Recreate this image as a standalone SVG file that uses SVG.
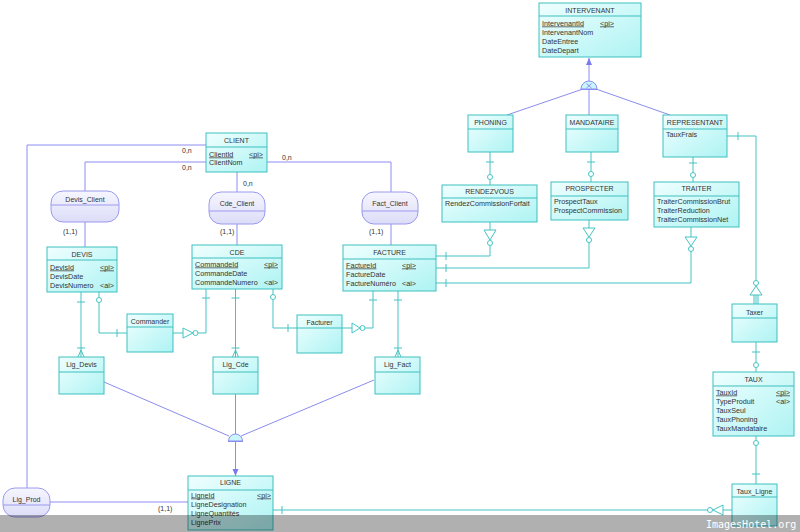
<svg xmlns="http://www.w3.org/2000/svg" width="800" height="532" viewBox="0 0 800 532">
<defs>
<linearGradient id="ge" x1="0" y1="0" x2="1" y2="1">
<stop offset="0" stop-color="#f0ffff"/><stop offset="1" stop-color="#aef3f3"/>
</linearGradient>
<linearGradient id="ga" x1="0" y1="0" x2="0" y2="1">
<stop offset="0" stop-color="#f6f6ff"/><stop offset="1" stop-color="#dcdcf8"/>
</linearGradient>
<marker id="ar" markerWidth="8" markerHeight="8" refX="7" refY="4" orient="auto" markerUnits="userSpaceOnUse">
<path d="M0,1 L7,4 L0,7 Z" fill="#7a7aee"/>
</marker>
<style>
.e{fill:url(#ge);stroke:#3fbfbf;stroke-width:1}
.a{fill:url(#ga);stroke:#9a9aee;stroke-width:1}
.sp{stroke:#3fbfbf;stroke-width:1}
.sa{stroke:#9a9aee;stroke-width:1}
text{font-family:"Liberation Sans",Arial,sans-serif;font-size:7.2px;fill:#333}
.ti{text-anchor:middle;font-size:7px}
.u{text-decoration:underline}
.b{fill:none;stroke:#8c8cf0;stroke-width:1}
.r{fill:none;stroke:#45c3c3;stroke-width:1}
.rc{fill:#fff;stroke:#45c3c3;stroke-width:1}
.h{fill:#c8f6fc;stroke:#8c8cf0;stroke-width:1}
.lb{font-size:7px}
</style>
</defs>
<rect width="800" height="532" fill="#fff"/>

<g id="connectors">
<!-- blue association / inheritance lines -->
<path class="b" d="M206,145 H27 V488"/>
<path class="b" d="M206,162 H85 V191"/>
<path class="b" d="M237,172 V192"/>
<path class="b" d="M267,162 H391 V192"/>
<path class="b" d="M85,222 V247"/>
<path class="b" d="M237,224 V245"/>
<path class="b" d="M391,224 V245"/>
<path class="b" d="M50,502 H188"/>
<path class="b" d="M104,382 L229,436"/>
<path class="b" d="M374,380 L241,436"/>
<path class="b" d="M235.5,394 V434"/>
<path class="b" d="M235.5,442 V476" marker-end="url(#ar)"/>
<path class="b" d="M589,81 V58" marker-end="url(#ar)"/>
<path class="b" d="M583,89 L507,115"/>
<path class="b" d="M589,90 V115"/>
<path class="b" d="M596,89 L670,115"/>
<path class="h" d="M228.5,441 A7,7 0 0 1 242.5,441 Z"/>
<path class="b" d="M228,441.5 H243" stroke-width="1.5"/>
<path class="h" d="M581,89 A8,8 0 0 1 597,89 Z"/>
<path class="b" d="M580,89.5 H598" stroke-width="1.5"/>
<path class="b" d="M586.5,83.5 L591.5,88 M591.5,83.5 L586.5,88" stroke-width="0.7"/>
<!-- labels -->
<text class="lb" x="182" y="152.5">0,n</text>
<text class="lb" x="182" y="169.5">0,n</text>
<text class="lb" x="243" y="185.5">0,n</text>
<text class="lb" x="282" y="159.5">0,n</text>
<text class="lb" x="63" y="233.5">(1,1)</text>
<text class="lb" x="220" y="233.5">(1,1)</text>
<text class="lb" x="369" y="233.5">(1,1)</text>
<text class="lb" x="158" y="510.5">(1,1)</text>

<!-- teal relationship lines -->
<!-- DEVIS - Lig_Devis -->
<path class="r" d="M81,292 V357 M77,302 H85 M77,348 H85 M78,357 L81,350 L84,357"/>
<!-- DEVIS - Commander -->
<path class="r" d="M99,292 V297.5 M99,302.5 V333 H127 M117,329 V337"/>
<circle class="rc" cx="99" cy="300" r="2.5"/>
<!-- Commander - CDE -->
<path class="r" d="M173,333 H183 M183,328 L193,333 L183,338 Z M198,333 H206 V289 M202,298 H210"/>
<circle class="rc" cx="195.5" cy="333" r="2.5"/>
<!-- CDE - Lig_Cde -->
<path class="r" d="M235.5,289 V357 M231.5,298 H239.5 M231.5,348 H239.5 M232.5,357 L235.5,350 L238.5,357"/>
<!-- CDE - Facturer -->
<path class="r" d="M273,289 V294.5 M273,299.5 V328 H297 M288,324 V332"/>
<circle class="rc" cx="273" cy="297" r="2.5"/>
<!-- Facturer - FACTURE -->
<path class="r" d="M342,328 H352 M352,323 L360,328 L352,333 Z M365,328 H373 V291 M369,300 H377"/>
<circle class="rc" cx="362.5" cy="328" r="2.5"/>
<!-- FACTURE - Lig_Fact -->
<path class="r" d="M398,291 V357 M394,300 H402 M394,348 H402 M395,357 L398,350 L401,357"/>
<!-- RENDEZVOUS - FACTURE -->
<path class="r" d="M490,222 V230 M484,230 L496,230 L490,240 Z M490,245.5 V256 H436 M446,252 V260"/>
<circle class="rc" cx="490" cy="243" r="2.5"/>
<!-- PROSPECTER - FACTURE -->
<path class="r" d="M589,220 V228 M583,228 L595,228 L589,237 Z M589,242.5 V268 H436 M446,264 V272"/>
<circle class="rc" cx="589" cy="240" r="2.5"/>
<!-- TRAITER - FACTURE -->
<path class="r" d="M691,227 V237 M685,237 L697,237 L691,246 Z M691,251.5 V283 H436 M446,279 V287"/>
<circle class="rc" cx="691" cy="249" r="2.5"/>
<!-- PHONING - RENDEZVOUS -->
<path class="r" d="M490,152 V174.5 M486,162 H494 M490,179.5 V185"/>
<circle class="rc" cx="490" cy="177" r="2.5"/>
<!-- MANDATAIRE - PROSPECTER -->
<path class="r" d="M591,152 V171.5 M587,162 H595 M591,176.5 V182"/>
<circle class="rc" cx="591" cy="174" r="2.5"/>
<!-- REPRESENTANT - TRAITER -->
<path class="r" d="M693,157 V172.5 M689,163 H697 M693,177.5 V182"/>
<circle class="rc" cx="693" cy="175" r="2.5"/>
<!-- REPRESENTANT - Taxer -->
<path class="r" d="M727,136 H756 V280.5 M738,132 V140 M756,286 L750,295 L762,295 Z M754,295 V304 M756,295 V304 M758,295 V304"/>
<circle class="rc" cx="756" cy="283" r="2.5"/>
<!-- Taxer - TAUX -->
<path class="r" d="M756,342 V362.5 M752,352 H760 M756,367.5 V372"/>
<circle class="rc" cx="756" cy="365" r="2.5"/>
<!-- TAUX - Taux_Ligne -->
<path class="r" d="M756,436 V440.5 M756,445.5 V484 M752,474 H760"/>
<circle class="rc" cx="756" cy="443" r="2.5"/>
<!-- LIGNE - Taux_Ligne -->
<path class="r" d="M273,510 H707.5 M282,506 V514 M713,510 L723,505 L723,515 Z M723,510 H732"/>
<circle class="rc" cx="710" cy="510" r="2.5"/>
</g>

<g id="INTERVENANT">
<rect class="e" x="539" y="3" width="102" height="54"/>
<line class="sp" x1="539" y1="16" x2="641" y2="16"/>
<text class="ti" x="590" y="12.5">INTERVENANT</text>
<text class="u" x="542" y="25.5">IntervenantId</text>
<text class="u" x="600" y="25.5">&lt;pi&gt;</text>
<text x="542" y="34.5">IntervenantNom</text>
<text x="542" y="43.5">DateEntree</text>
<text x="542" y="52.5">DateDepart</text>
</g>

<g id="PHONING">
<rect class="e" x="468" y="115" width="45" height="37"/>
<line class="sp" x1="468" y1="129" x2="513" y2="129"/>
<text class="ti" x="490.5" y="124.5">PHONING</text>
</g>

<g id="MANDATAIRE">
<rect class="e" x="566" y="115" width="52" height="37"/>
<line class="sp" x1="566" y1="129" x2="618" y2="129"/>
<text class="ti" x="592" y="124.5">MANDATAIRE</text>
</g>

<g id="REPRESENTANT">
<rect class="e" x="663" y="115" width="64" height="42"/>
<line class="sp" x1="663" y1="129" x2="727" y2="129"/>
<text class="ti" x="695" y="124.5">REPRESENTANT</text>
<text x="666" y="136.5">TauxFrais</text>
</g>

<g id="RENDEZVOUS">
<rect class="e" x="442" y="185" width="95" height="37"/>
<line class="sp" x1="442" y1="198" x2="537" y2="198"/>
<text class="ti" x="489.5" y="193.5">RENDEZVOUS</text>
<text x="445" y="206">RendezCommissionForfait</text>
</g>

<g id="PROSPECTER">
<rect class="e" x="551" y="182" width="77" height="38"/>
<line class="sp" x1="551" y1="196" x2="628" y2="196"/>
<text class="ti" x="589.5" y="191">PROSPECTER</text>
<text x="554" y="203.5">ProspectTaux</text>
<text x="554" y="213">ProspectCommission</text>
</g>

<g id="TRAITER">
<rect class="e" x="654" y="182" width="85" height="45"/>
<line class="sp" x1="654" y1="196" x2="739" y2="196"/>
<text class="ti" x="696.5" y="191">TRAITER</text>
<text x="657" y="203.5">TraiterCommissionBrut</text>
<text x="657" y="212.5">TraiterReduction</text>
<text x="657" y="221.5">TraiterCommissionNet</text>
</g>

<g id="CLIENT">
<rect class="e" x="206" y="133" width="61" height="39"/>
<line class="sp" x1="206" y1="147" x2="267" y2="147"/>
<text class="ti" x="236.5" y="142.5">CLIENT</text>
<text class="u" x="209" y="156.5">ClientId</text>
<text class="u" x="249" y="156.5">&lt;pi&gt;</text>
<text x="209" y="164.5">ClientNom</text>
</g>

<g id="Devis_Client">
<rect class="a" x="51" y="191" width="68" height="31" rx="12"/>
<line class="sa" x1="51" y1="205" x2="119" y2="205"/>
<text class="ti" x="85" y="201.5">Devis_Client</text>
</g>

<g id="Cde_Client">
<rect class="a" x="209" y="192" width="56" height="32" rx="12"/>
<line class="sa" x1="209" y1="211" x2="265" y2="211"/>
<text class="ti" x="237" y="205.5">Cde_Client</text>
</g>

<g id="Fact_Client">
<rect class="a" x="362" y="192" width="56" height="32" rx="12"/>
<line class="sa" x1="362" y1="211" x2="418" y2="211"/>
<text class="ti" x="390" y="205.5">Fact_Client</text>
</g>

<g id="DEVIS">
<rect class="e" x="47" y="247" width="70" height="45"/>
<line class="sp" x1="47" y1="260" x2="117" y2="260"/>
<text class="ti" x="82" y="256.5">DEVIS</text>
<text class="u" x="50" y="269.5">DevisId</text>
<text class="u" x="100" y="269.5">&lt;pi&gt;</text>
<text x="50" y="278.5">DevisDate</text>
<text x="50" y="287.5">DevisNumero</text>
<text x="100" y="287.5">&lt;ai&gt;</text>
</g>

<g id="CDE">
<rect class="e" x="192" y="245" width="90" height="44"/>
<line class="sp" x1="192" y1="258" x2="282" y2="258"/>
<text class="ti" x="237" y="254.5">CDE</text>
<text class="u" x="195" y="266.5">CommandeId</text>
<text class="u" x="264" y="266.5">&lt;pi&gt;</text>
<text x="195" y="275.5">CommandeDate</text>
<text x="195" y="284.5">CommandeNumero</text>
<text x="264" y="284.5">&lt;ai&gt;</text>
</g>

<g id="FACTURE">
<rect class="e" x="343" y="245" width="93" height="46"/>
<line class="sp" x1="343" y1="259" x2="436" y2="259"/>
<text class="ti" x="389.5" y="254.5">FACTURE</text>
<text class="u" x="346" y="267.5">FactureId</text>
<text class="u" x="402" y="267.5">&lt;pi&gt;</text>
<text x="346" y="276.5">FactureDate</text>
<text x="346" y="285.5">FactureNuméro</text>
<text x="402" y="285.5">&lt;ai&gt;</text>
</g>

<g id="Commander">
<rect class="e" x="127" y="314" width="46" height="38"/>
<line class="sp" x1="127" y1="327" x2="173" y2="327"/>
<text class="ti" x="150" y="323.5">Commander</text>
</g>

<g id="Facturer">
<rect class="e" x="297" y="315" width="45" height="38"/>
<line class="sp" x1="297" y1="328" x2="342" y2="328"/>
<text class="ti" x="319.5" y="324.5">Facturer</text>
</g>

<g id="Lig_Devis">
<rect class="e" x="59" y="357" width="45" height="37"/>
<line class="sp" x1="59" y1="372" x2="104" y2="372"/>
<text class="ti" x="81.5" y="366.5">Lig_Devis</text>
</g>

<g id="Lig_Cde">
<rect class="e" x="213" y="357" width="45" height="37"/>
<line class="sp" x1="213" y1="372" x2="258" y2="372"/>
<text class="ti" x="235.5" y="366.5">Lig_Cde</text>
</g>

<g id="Lig_Fact">
<rect class="e" x="375" y="357" width="45" height="37"/>
<line class="sp" x1="375" y1="372" x2="420" y2="372"/>
<text class="ti" x="397.5" y="366.5">Lig_Fact</text>
</g>

<g id="LIGNE">
<rect class="e" x="188" y="476" width="85" height="54"/>
<line class="sp" x1="188" y1="490" x2="273" y2="490"/>
<text class="ti" x="230.5" y="484.5">LIGNE</text>
<text class="u" x="191" y="497.5">LigneId</text>
<text class="u" x="257" y="497.5">&lt;pi&gt;</text>
<text x="191" y="506.5">LigneDesignation</text>
<text x="191" y="515.5">LigneQuantités</text>
<text x="191" y="524.5">LignePrix</text>
</g>

<g id="Lig_Prod">
<rect class="a" x="3" y="488" width="47" height="29" rx="12"/>
<line class="sa" x1="3" y1="505" x2="50" y2="505"/>
<text class="ti" x="26.5" y="501.5">Lig_Prod</text>
</g>

<g id="Taxer">
<rect class="e" x="732" y="304" width="45" height="38"/>
<line class="sp" x1="732" y1="318" x2="777" y2="318"/>
<text class="ti" x="754.5" y="314.5">Taxer</text>
</g>

<g id="TAUX">
<rect class="e" x="713" y="372" width="81" height="64"/>
<line class="sp" x1="713" y1="386" x2="794" y2="386"/>
<text class="ti" x="753.5" y="381.5">TAUX</text>
<text class="u" x="716" y="394.5">TauxId</text>
<text class="u" x="776" y="394.5">&lt;pi&gt;</text>
<text x="716" y="403.5">TypeProduit</text>
<text x="776" y="403.5">&lt;ai&gt;</text>
<text x="716" y="412.5">TauxSeul</text>
<text x="716" y="421.5">TauxPhoning</text>
<text x="716" y="430.5">TauxMandataire</text>
</g>

<g id="Taux_Ligne">
<rect class="e" x="732" y="484" width="45" height="42"/>
<line class="sp" x1="732" y1="497" x2="777" y2="497"/>
<text class="ti" x="754.5" y="493.5">Taux_Ligne</text>
</g>

<rect x="0" y="515" width="800" height="17" fill="#000" fill-opacity="0.31"/>
<text x="706" y="527.5" style="font-family:'DejaVu Sans Mono',monospace;font-size:10px;fill:#fff">ImagesHotel.org</text>
</svg>
